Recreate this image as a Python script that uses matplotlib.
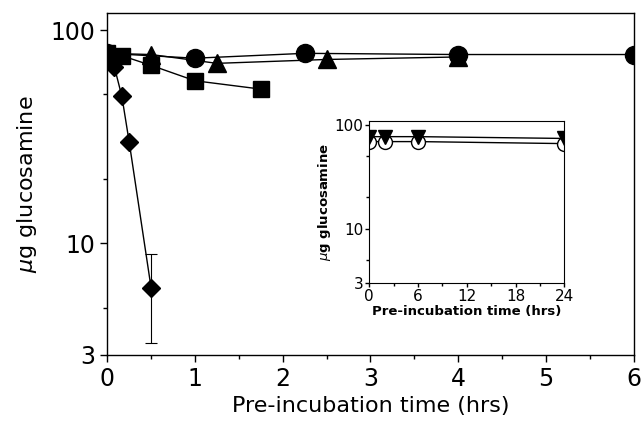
import numpy as np
import matplotlib
matplotlib.use("Agg")
import matplotlib.pyplot as plt
from matplotlib.ticker import FixedLocator, NullFormatter

# main panel data (hrs, ug glucosamine)
circ_x = [0, 1.0, 2.25, 4.0, 6.0]
circ_y = [78, 74, 78, 77, 77]
tri_x = [0, 0.5, 1.25, 2.5, 4.0]
tri_y = [78, 77, 70, 73, 75]
sq_x = [0, 0.167, 0.5, 1.0, 1.75]
sq_y = [78, 76, 68.5, 58, 53]
dia_x = [0, 0.083, 0.167, 0.25, 0.5]
dia_y = [77, 67, 49, 30, 6.2]
dia_err_lo = [0, 0, 0, 0, 2.8]
dia_err_hi = [0, 0, 0, 0, 2.7]

# inset data
ins_x = [0, 2, 6, 24]
ins_circ = [69, 69, 69, 66]
ins_tri = [77, 77, 77, 74]

plt.rcParams['font.family'] = ['DejaVu Sans']
fig = plt.figure(figsize=(6.42, 4.23), dpi=100)
ax = fig.add_axes([0.167, 0.161, 0.820, 0.809])

ax.plot(circ_x, circ_y, 'k-', marker='o', ms=13, lw=1)
ax.plot(tri_x, tri_y, 'k-', marker='^', ms=13, lw=1)
ax.plot(sq_x, sq_y, 'k-', marker='s', ms=12, lw=1)
ax.errorbar(dia_x, dia_y, yerr=[dia_err_lo, dia_err_hi], fmt='k-', marker='D',
            ms=9, lw=1, elinewidth=0.8, capsize=4, capthick=0.8)

ax.set_yscale('log')
ax.set_xlim(0, 6)
ax.set_ylim(3, 121)
ax.yaxis.set_major_locator(FixedLocator([3, 10, 100]))
ax.yaxis.set_minor_locator(FixedLocator([5, 20, 50]))
ax.yaxis.set_major_formatter(matplotlib.ticker.FixedFormatter(['3', '10', '100']))
ax.yaxis.set_minor_formatter(NullFormatter())
ax.set_xticks(range(7))
ax.xaxis.set_minor_locator(FixedLocator(np.arange(0.5, 6, 1)))
ax.tick_params(which='major', labelsize=17, length=5, width=1)
ax.tick_params(which='minor', length=3, width=1)
ax.set_xlabel('Pre-incubation time (hrs)', fontsize=16)
ax.set_ylabel(r'$\mu$g glucosamine', fontsize=16, labelpad=8)
for s in ax.spines.values():
    s.set_linewidth(1)

# inset
ins = fig.add_axes([0.575, 0.331, 0.304, 0.383])
ins.plot(ins_x, ins_circ, 'k-', marker='o', mfc='white', ms=10, lw=1)
ins.plot(ins_x, ins_tri, 'k-', marker='v', ms=10, lw=1)
ins.set_yscale('log')
ins.set_xlim(0, 24)
ins.set_ylim(3, 109)
ins.yaxis.set_major_locator(FixedLocator([3, 10, 100]))
ins.yaxis.set_minor_locator(FixedLocator([5, 20, 50]))
ins.yaxis.set_major_formatter(matplotlib.ticker.FixedFormatter(['3', '10', '100']))
ins.yaxis.set_minor_formatter(NullFormatter())
ins.set_xticks([0, 6, 12, 18, 24])
ins.xaxis.set_minor_locator(FixedLocator([3, 9, 15, 21]))
ins.tick_params(which='major', labelsize=11, length=3, width=1, pad=1)
ins.tick_params(which='minor', length=2, width=1)
ins.set_xlabel('Pre-incubation time (hrs)', fontsize=9.5, fontweight='bold', labelpad=1)
ins.set_ylabel(r'$\mu$g glucosamine', fontsize=9.5, fontweight='bold', labelpad=1)

fig.savefig('out.png', dpi=100)
